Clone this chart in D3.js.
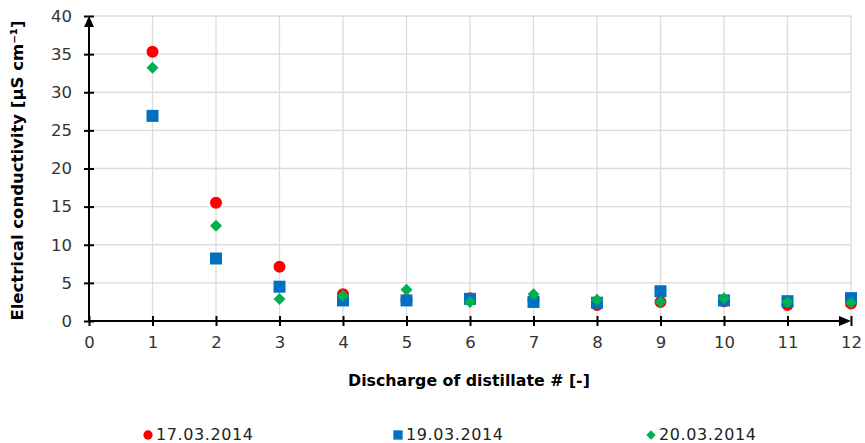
<!DOCTYPE html>
<html><head><meta charset="utf-8">
<script src="https://cdn.jsdelivr.net/npm/d3@7"></script>
<style>body{margin:0;background:#fff}svg{display:block}</style>
</head><body>
<svg id="c" width="865" height="443"></svg>
<script>
const discharge = [1,2,3,4,5,6,7,8,9,10,11,12];
const s17 = [35.3,15.5,7.1,3.5,2.8,3.0,2.8,2.1,2.5,2.6,2.1,2.3];
const s19 = [26.9,8.2,4.5,2.7,2.7,2.9,2.5,2.4,3.9,2.7,2.6,3.0];
const s20 = [33.2,12.5,2.9,3.3,4.1,2.5,3.5,2.8,2.5,3.0,2.5,2.4];
const seriesNames = ["17.03.2014","19.03.2014","20.03.2014"];
const seriesColors = ["#ff0000","#0070c0","#00b050"];
const xTicks = [0,1,2,3,4,5,6,7,8,9,10,11,12];
const yTicks = [0,5,10,15,20,25,30,35,40];

const svg = d3.select("#c");
const font = "Verdana, 'DejaVu Sans', sans-serif";
const x = d3.scaleLinear().domain([0,12]).range([89,851]);
const y = d3.scaleLinear().domain([0,40]).range([321,16]);

// grid
svg.append("g").selectAll("line").data(xTicks.slice(1)).join("line")
  .attr("x1",d=>x(d)).attr("x2",d=>x(d)).attr("y1",y(40)).attr("y2",y(0))
  .attr("stroke","#dcdcdc").attr("stroke-width",1.3);
svg.append("g").selectAll("line").data(yTicks.slice(1)).join("line")
  .attr("x1",x(0)).attr("x2",x(12)).attr("y1",d=>y(d)).attr("y2",d=>y(d))
  .attr("stroke","#dcdcdc").attr("stroke-width",1.3);

// axes
const yAxis = d3.axisLeft(y).tickValues(yTicks).tickSize(5).tickPadding(12);
const gy = svg.append("g").attr("transform",`translate(${x(0)},0)`).call(yAxis);
const xAxis = d3.axisBottom(x).tickValues(xTicks).tickSize(5).tickPadding(10);
const gx = svg.append("g").attr("transform",`translate(0,${y(0)})`).call(xAxis);
[gy,gx].forEach(g=>{
  g.select(".domain").remove();
  g.selectAll(".tick line").attr("stroke","#000").attr("stroke-width",2);
  g.selectAll("text").attr("font-family",font).attr("font-size",16.5).attr("fill","#333");
});
gy.selectAll(".tick line").attr("x1",5).attr("x2",-5);
gx.selectAll(".tick line").attr("y1",-5).attr("y2",5);
svg.append("line").attr("x1",x(0)).attr("x2",x(0)).attr("y1",y(0)+1).attr("y2",y(40)+8)
  .attr("stroke","#000").attr("stroke-width",2);
svg.append("path").attr("d",`M${x(0)-5},${y(40)+11}L${x(0)},${y(40)}L${x(0)+5},${y(40)+11}Z`).attr("fill","#000");
svg.append("line").attr("x1",x(0)-1).attr("x2",x(12)-8).attr("y1",y(0)).attr("y2",y(0))
  .attr("stroke","#000").attr("stroke-width",2);
svg.append("path").attr("d",`M${x(12)-12},${y(0)-5}L${x(12)},${y(0)}L${x(12)-12},${y(0)+5}Z`).attr("fill","#000");

// titles
svg.append("text").attr("transform",`translate(23,${(y(0)+y(40))/2+2}) rotate(-90)`)
  .attr("text-anchor","middle").attr("font-family",font).attr("font-weight","bold").attr("font-size",16.5).attr("fill","#000")
  .text("Electrical conductivity [µS cm⁻¹]");
svg.append("text").attr("x",469).attr("y",386).attr("text-anchor","middle")
  .attr("font-family",font).attr("font-weight","bold").attr("font-size",15.8).attr("fill","#000")
  .text("Discharge of distillate # [-]");

// markers
const diamond = {draw(ctx,size){const r=Math.sqrt(size/2);ctx.moveTo(0,-r);ctx.lineTo(r,0);ctx.lineTo(0,r);ctx.lineTo(-r,0);ctx.closePath();}};
const symbols = [d3.symbolCircle,d3.symbolSquare,diamond];
const sizes = [113,144,72];
const allSeries = [s17,s19,s20];
allSeries.forEach((s,i)=>{
  svg.append("g").selectAll("path").data(discharge.map((d,j)=>[d,s[j]])).join("path")
    .attr("transform",d=>`translate(${x(d[0])},${y(d[1])})`)
    .attr("d",d3.symbol().type(symbols[i]).size(sizes[i]))
    .attr("fill",seriesColors[i]);
});

// legend
const legX = [148,398,651];
seriesNames.forEach((n,i)=>{
  svg.append("path").attr("transform",`translate(${legX[i]},435)`)
    .attr("d",d3.symbol().type(symbols[i]).size(sizes[i]*0.6)).attr("fill",seriesColors[i]);
  svg.append("text").attr("x",legX[i]+8).attr("y",440).attr("font-family",font)
    .attr("font-size",16).attr("letter-spacing",0.6).attr("fill","#222").text(n);
});
</script>
</body></html>
